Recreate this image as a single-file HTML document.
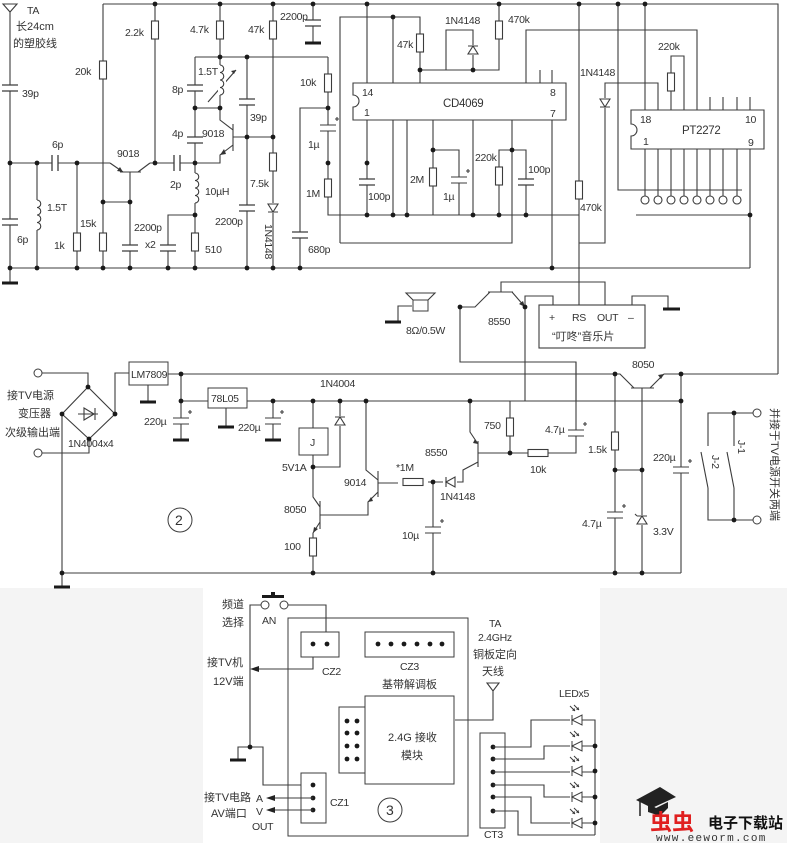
<!DOCTYPE html>
<html><head><meta charset="utf-8">
<style>
html,body{margin:0;padding:0;background:#fff;}
svg{display:block;}
.w{stroke:#3c3c3c;stroke-width:1.1;fill:none;}
text{font-family:"Liberation Sans","Noto Sans CJK SC",sans-serif;font-size:10.5px;letter-spacing:-0.3px;fill:#333;}
.c{font-family:"Liberation Sans","Noto Sans CJK SC",sans-serif;font-size:11px;letter-spacing:0;}
</style></head><body>
<svg width="787" height="843" viewBox="0 0 787 843" xmlns="http://www.w3.org/2000/svg">
<defs>
<g id="rv"><rect x="-3.5" y="-9" width="7" height="18" fill="#fff" stroke="#3c3c3c" stroke-width="1.1"/></g>
<g id="rh"><rect x="-10" y="-3.5" width="20" height="7" fill="#fff" stroke="#3c3c3c" stroke-width="1.1"/></g>
<g id="cv"><rect x="-8" y="-3" width="16" height="6" fill="#fff"/><path d="M-8 -3H8M-8 3H8" stroke="#3c3c3c" stroke-width="1.3"/></g>
<g id="ch"><rect x="-3" y="-8" width="6" height="16" fill="#fff"/><path d="M-3 -8V8M3 -8V8" stroke="#3c3c3c" stroke-width="1.3"/></g>
<g id="ev"><rect x="-8" y="-3" width="16" height="6" fill="#fff"/><path d="M-8 -3H8M-8 3H8M7 -9H11M9 -11V-7" stroke="#3c3c3c" stroke-width="1.1"/></g>
<g id="d"><circle r="2.4" fill="#1a1a1a"/></g>
<g id="g"><rect x="-8" y="-1.5" width="16" height="3" fill="#1a1a1a"/></g>
<g id="dd"><rect x="-5" y="-5" width="10" height="10" fill="#fff"/><path d="M-5 -4H5L0 4ZM-5 4H5" stroke="#3c3c3c" stroke-width="1.1" fill="#fff"/></g>
<g id="du"><rect x="-5" y="-5" width="10" height="10" fill="#fff"/><path d="M-5 4H5L0 -4ZM-5 -4H5" stroke="#3c3c3c" stroke-width="1.1" fill="#fff"/></g>
<g id="dl"><rect x="-5" y="-5" width="10" height="10" fill="#fff"/><path d="M5 -5V5L-4 0ZM-4 -5V5" stroke="#3c3c3c" stroke-width="1.1" fill="#fff"/></g>
<g id="lv"><rect x="-2" y="-15" width="8" height="30" fill="#fff"/><path d="M0 -15a3.75 3.75 0 0 1 0 7.5a3.75 3.75 0 0 1 0 7.5a3.75 3.75 0 0 1 0 7.5a3.75 3.75 0 0 1 0 7.5" stroke="#3c3c3c" stroke-width="1.1" fill="none"/></g>
<g id="led"><rect x="-6" y="-6" width="12" height="12" fill="#fff"/><path d="M6 -5V5L-4 0ZM-4 -5V5" stroke="#3c3c3c" stroke-width="1" fill="#fff"/><path d="M-6 -14L-1 -9M-2 -15L3 -10" stroke="#3c3c3c" stroke-width="1"/><path d="M-1 -9l-3 -0.5l2.5 -2.5zM3 -10l-3 -0.5l2.5 -2.5z" fill="#333"/></g>
</defs>

<rect x="0" y="588" width="787" height="255" fill="#f4f4f4"/>
<rect x="203" y="588" width="397" height="255" fill="#fff"/>

<!-- ===== TOP SECTION WIRES ===== -->
<path class="w" d="M103 4H778V374"/>
<path class="w" d="M10 12V283M10 268H750M10 163H110"/>
<path class="w" d="M37 163V268M77 163V268M103 4V268M103 202H130"/>
<path class="w" d="M110 163L123 172M120 172H141M138 172L150 163M130 172V268"/>
<path class="w" d="M150 163H195M155 4V163"/>
<path class="w" d="M195 57V268M195 57H328M220 4V108M195 108H220M247 57V268"/>
<path class="w" d="M220 108V120L233 130M233 124V151M233 145L220 155V163H195M233 137H273"/>
<path class="w" d="M208 102L236 70"/>
<path class="w" d="M195 215H168V268M273 4V268M313 4V43"/>
<path class="w" d="M328 57V215H579M328 108H300V268"/>
<path class="w" d="M340 243V17H420V83M393 17V83M420 70H499V4M446 70V30H473V70"/>
<path class="w" d="M367 4V83M367 120V215M393 120V215M407 120V215M433 120V215M433 150H459V215M473 120V215M512 120V243H340M512 150H499V215M512 150H526V215M552 120V268"/>
<path class="w" d="M540 70V83M552 70V83M526 83V30H697V110"/>
<path class="w" d="M579 4V243H605V83H658V110M579 243V305"/>
<path class="w" d="M618 4V190H742M645 4V110M671 110V56H684V110"/>
<path class="w" d="M710 97V110M723 97V110M737 97V110M750 97V110"/>
<path class="w" d="M645 149V196M658 149V196M671 149V196M684 149V196M697 149V196M710 149V196M723 149V196M737 149V196"/>
<path class="w" d="M636 215H750M750 149V268"/>
<path class="w" d="M353 83H566V120H353V107A6 6 0 0 0 353 95Z" fill="#fff"/>
<path class="w" d="M631 110H764V149H631V136A6 6 0 0 0 631 124Z" fill="#fff"/>
<g fill="none" stroke="#3c3c3c" stroke-width="1.1">
<circle cx="645" cy="200" r="4" fill="#fff"/><circle cx="658" cy="200" r="4" fill="#fff"/><circle cx="671" cy="200" r="4" fill="#fff"/><circle cx="684" cy="200" r="4" fill="#fff"/><circle cx="697" cy="200" r="4" fill="#fff"/><circle cx="710" cy="200" r="4" fill="#fff"/><circle cx="723" cy="200" r="4" fill="#fff"/><circle cx="737" cy="200" r="4" fill="#fff"/>
</g>
<path class="w" d="M3 4H17L10 12Z"/>
<use href="#g" x="10" y="283"/>
<use href="#cv" x="10" y="88"/><use href="#cv" x="10" y="222"/>
<use href="#ch" x="55" y="163"/><use href="#lv" x="37" y="215"/>
<use href="#rv" x="77" y="242"/><use href="#rv" x="103" y="70"/><use href="#rv" x="103" y="242"/>
<use href="#cv" x="130" y="248"/><use href="#rv" x="155" y="30"/><use href="#ch" x="177" y="163"/>
<use href="#cv" x="195" y="88"/><use href="#cv" x="195" y="140"/><use href="#lv" x="195" y="188"/><use href="#rv" x="195" y="242"/>
<use href="#cv" x="168" y="248"/><use href="#rv" x="220" y="30"/><use href="#lv" x="220" y="80"/>
<use href="#cv" x="247" y="102"/><use href="#cv" x="247" y="208"/>
<use href="#rv" x="273" y="30"/><use href="#rv" x="273" y="162"/><use href="#dd" x="273" y="208"/>
<use href="#cv" x="313" y="23"/><use href="#g" x="313" y="43"/>
<use href="#rv" x="328" y="83"/><use href="#ev" x="328" y="128"/><use href="#rv" x="328" y="188"/><use href="#cv" x="300" y="235"/>
<use href="#cv" x="367" y="182"/><use href="#rv" x="420" y="43"/><use href="#du" x="473" y="50"/><use href="#rv" x="499" y="30"/>
<use href="#rv" x="433" y="177"/><use href="#ev" x="459" y="180"/><use href="#rv" x="499" y="176"/><use href="#cv" x="526" y="182"/>
<use href="#rv" x="579" y="190"/><use href="#dd" x="605" y="103"/><use href="#rv" x="671" y="82"/>
<path d="M123 172l-6 -1l3 -4z M220 155l6 -1l-2 -5z" fill="#333"/>
<path d="M236 70l-5 1l3 3z" fill="#333"/>
<g>
<use href="#d" x="155" y="4"/><use href="#d" x="220" y="4"/><use href="#d" x="273" y="4"/><use href="#d" x="313" y="4"/><use href="#d" x="367" y="4"/><use href="#d" x="499" y="4"/><use href="#d" x="579" y="4"/><use href="#d" x="618" y="4"/><use href="#d" x="645" y="4"/>
<use href="#d" x="10" y="163"/><use href="#d" x="37" y="163"/><use href="#d" x="77" y="163"/><use href="#d" x="155" y="163"/><use href="#d" x="195" y="163"/>
<use href="#d" x="103" y="202"/><use href="#d" x="130" y="202"/><use href="#d" x="195" y="108"/><use href="#d" x="220" y="108"/><use href="#d" x="220" y="57"/><use href="#d" x="247" y="57"/><use href="#d" x="247" y="137"/><use href="#d" x="273" y="137"/><use href="#d" x="195" y="215"/>
<use href="#d" x="328" y="108"/><use href="#d" x="328" y="163"/><use href="#d" x="367" y="163"/>
<use href="#d" x="10" y="268"/><use href="#d" x="37" y="268"/><use href="#d" x="77" y="268"/><use href="#d" x="103" y="268"/><use href="#d" x="130" y="268"/><use href="#d" x="168" y="268"/><use href="#d" x="195" y="268"/><use href="#d" x="247" y="268"/><use href="#d" x="273" y="268"/><use href="#d" x="300" y="268"/><use href="#d" x="552" y="268"/>
<use href="#d" x="393" y="17"/><use href="#d" x="420" y="70"/><use href="#d" x="473" y="70"/>
<use href="#d" x="367" y="215"/><use href="#d" x="393" y="215"/><use href="#d" x="407" y="215"/><use href="#d" x="473" y="215"/><use href="#d" x="499" y="215"/><use href="#d" x="526" y="215"/><use href="#d" x="433" y="150"/><use href="#d" x="512" y="150"/><use href="#d" x="750" y="215"/>
</g>

<path class="w" d="M460 307H475L490 292M488 292H513M512 292L525 307M501 292V282H605V305M460 307V362H576V401"/>
<path class="w" d="M525 307V401M525 307V296H553V305M412 306H398V322"/>
<path d="M525 307l-2 -6l-4 3z" fill="#333"/>
<rect x="413" y="300" width="15" height="11" fill="#fff" stroke="#3c3c3c"/>
<path class="w" d="M413 300L406 293H435L428 300"/>
<use href="#g" x="393" y="322"/>
<use href="#d" x="460" y="307"/><use href="#d" x="525" y="307"/>
<rect x="539" y="305" width="106" height="43" fill="#fff" stroke="#3c3c3c" stroke-width="1.1"/>
<path class="w" d="M632 305V296H668V309"/><rect x="663" y="307.5" width="17" height="3" fill="#1a1a1a"/>

<!-- ===== MIDDLE SECTION ===== -->
<path class="w" d="M42 373H88V387L115 414L89 439L62 414L88 387M42 453H89V439"/>
<path class="w" d="M78 414H98M84 408V420L94 414ZM95 408V420"/>
<path class="w" d="M62 414V587M115 414V373H129M148 385V402"/>
<path class="w" d="M168 374H620L634 388M631 388H654M650 388L664 374H778M642 388V573"/>
<path d="M664 374l-6 1l3 4z" fill="#333"/>
<path class="w" d="M181 374V440M181 401H208M226 408V427M247 401H681M273 401V440"/>
<path class="w" d="M313 401V428M313 455V497L320 507M320 501V529M320 522L313 533V573M320 515H368V502L378 492M378 471V497M366 401V470L378 480M378 483H398M428 482H443M457 482H463V470L478 462M478 441V467M470 401V432L478 444M478 453H528M548 453H576V362M340 401V467H313"/>
<path d="M313 533l1 -6l4 2zM368 502l5 -1l-2 -4zM478 444l-5 -1l2 -4z" fill="#333"/>
<path class="w" d="M510 401V453M433 482V573M615 374V573M615 470H642M681 374V573M62 573H681"/>
<rect x="129" y="362" width="39" height="23" fill="#fff" stroke="#3c3c3c"/>
<rect x="208" y="388" width="39" height="20" fill="#fff" stroke="#3c3c3c"/>
<rect x="299" y="428" width="29" height="27" fill="#fff" stroke="#3c3c3c"/>
<use href="#g" x="62" y="587"/><use href="#g" x="148" y="402"/><use href="#g" x="226" y="427"/><use href="#g" x="181" y="440"/><use href="#g" x="273" y="440"/>
<use href="#ev" x="181" y="421"/><use href="#ev" x="273" y="421"/><use href="#du" x="340" y="421"/>
<use href="#rv" x="313" y="547"/><use href="#rh" x="413" y="482"/><use href="#dl" x="450" y="482"/>
<use href="#rv" x="510" y="427"/><use href="#rh" x="538" y="453"/><use href="#ev" x="576" y="433"/>
<use href="#ev" x="433" y="530"/><use href="#rv" x="615" y="441"/><use href="#ev" x="615" y="515"/>
<use href="#du" x="642" y="520"/><path class="w" d="M637 516l-2 -2"/>
<use href="#ev" x="681" y="470"/>
<g>
<use href="#d" x="181" y="374"/><use href="#d" x="181" y="401"/><use href="#d" x="273" y="401"/><use href="#d" x="313" y="401"/><use href="#d" x="340" y="401"/><use href="#d" x="366" y="401"/><use href="#d" x="470" y="401"/><use href="#d" x="615" y="374"/><use href="#d" x="681" y="374"/><use href="#d" x="681" y="401"/>
<use href="#d" x="313" y="467"/><use href="#d" x="433" y="482"/><use href="#d" x="510" y="453"/><use href="#d" x="615" y="470"/><use href="#d" x="642" y="470"/>
<use href="#d" x="62" y="573"/><use href="#d" x="313" y="573"/><use href="#d" x="433" y="573"/><use href="#d" x="615" y="573"/><use href="#d" x="642" y="573"/>
<use href="#d" x="62" y="414"/><use href="#d" x="115" y="414"/><use href="#d" x="88" y="387"/><use href="#d" x="89" y="439"/>
</g>
<circle cx="38" cy="373" r="4" fill="#fff" stroke="#3c3c3c"/><circle cx="38" cy="453" r="4" fill="#fff" stroke="#3c3c3c"/>
<circle cx="180" cy="520" r="12" fill="none" stroke="#3c3c3c"/>
<path class="w" d="M753 413H708V446M708 488V520H753M734 413V446M734 488V520M708 488L701 452M734 488L727 452"/>
<use href="#d" x="734" y="413"/><use href="#d" x="734" y="520"/>
<circle cx="757" cy="413" r="4" fill="#fff" stroke="#3c3c3c"/><circle cx="757" cy="520" r="4" fill="#fff" stroke="#3c3c3c"/>

<!-- ===== BOTTOM SECTION ===== -->
<rect x="288" y="618" width="180" height="218" fill="none" stroke="#3c3c3c"/>
<path class="w" d="M261 605H250V747M288 605H326V644M313 644V669H256M250 747H238V760M250 747H263V785H313"/>
<path d="M250 669l9 -3v6z" fill="#222"/>
<circle cx="265" cy="605" r="4" fill="#fff" stroke="#3c3c3c"/><circle cx="284" cy="605" r="4" fill="#fff" stroke="#3c3c3c"/>
<rect x="262" y="595" width="22" height="3" fill="#1a1a1a"/><rect x="271" y="592" width="4" height="4" fill="#1a1a1a"/>
<use href="#g" x="238" y="760"/><use href="#d" x="250" y="747"/>
<rect x="301" y="632" width="38" height="25" fill="#fff" stroke="#3c3c3c"/>
<use href="#d" x="313" y="644"/><use href="#d" x="327" y="644"/>
<rect x="365" y="632" width="89" height="25" fill="#fff" stroke="#3c3c3c"/>
<use href="#d" x="378" y="644"/><use href="#d" x="391" y="644"/><use href="#d" x="404" y="644"/><use href="#d" x="417" y="644"/><use href="#d" x="430" y="644"/><use href="#d" x="442" y="644"/>
<rect x="365" y="696" width="89" height="88" fill="#fff" stroke="#3c3c3c"/>
<rect x="339" y="707" width="26" height="66" fill="#fff" stroke="#3c3c3c"/>
<use href="#d" x="347" y="721"/><use href="#d" x="357" y="721"/><use href="#d" x="347" y="733"/><use href="#d" x="357" y="733"/><use href="#d" x="347" y="746"/><use href="#d" x="357" y="746"/><use href="#d" x="347" y="759"/><use href="#d" x="357" y="759"/>
<rect x="301" y="773" width="25" height="50" fill="#fff" stroke="#3c3c3c"/>
<use href="#d" x="313" y="785"/><use href="#d" x="313" y="798"/><use href="#d" x="313" y="810"/>
<path class="w" d="M313 798H270M313 810H270"/>
<path d="M266 798l9 -3v6zM266 810l9 -3v6z" fill="#222"/>
<circle cx="390" cy="810" r="12" fill="none" stroke="#3c3c3c"/>
<path class="w" d="M455 720H493V690M487 683H499L493 691Z"/>
<rect x="480" y="733" width="25" height="95" fill="#fff" stroke="#3c3c3c"/>
<g><use href="#d" x="493" y="747"/><use href="#d" x="493" y="759"/><use href="#d" x="493" y="772"/><use href="#d" x="493" y="785"/><use href="#d" x="493" y="797"/><use href="#d" x="493" y="811"/></g>
<path class="w" d="M493 747H531V720H595V835M493 759H544V746H595M493 772H595M493 785H544V797H595M493 797H531V823H595M493 811H518V835H595"/>
<use href="#led" x="576" y="720"/><use href="#led" x="576" y="746"/><use href="#led" x="576" y="771"/><use href="#led" x="576" y="797"/><use href="#led" x="576" y="823"/>
<use href="#d" x="595" y="746"/><use href="#d" x="595" y="771"/><use href="#d" x="595" y="797"/><use href="#d" x="595" y="823"/>

<path d="M636 800L660 787L676 797L652 808Z" fill="#222"/><path d="M648 803V812L660 816L668 808V802L656 808Z" fill="#222"/><path d="M640 801V816" stroke="#222" stroke-width="1.5"/>
<text x="650" y="830" style="font-size:22px;font-weight:bold;fill:#e02020;font-family:'Noto Sans CJK SC',sans-serif;letter-spacing:0">虫虫</text>
<text x="708" y="828" style="font-size:15px;font-weight:bold;fill:#111;font-family:'Noto Sans CJK SC',sans-serif;letter-spacing:0">电子下载站</text>
<text x="656" y="841" style="font-size:11px;fill:#333;letter-spacing:1.3px;font-family:'Liberation Mono',monospace">www.eeworm.com</text>

<!-- ===== TEXT LABELS ===== -->
<g>
<text x="27" y="14">TA</text>
<text class="c" x="16" y="30">长24cm</text>
<text class="c" x="13" y="47">的塑胶线</text>
<text x="22" y="97">39p</text><text x="17" y="243">6p</text><text x="52" y="148">6p</text>
<text x="47" y="211">1.5T</text><text x="54" y="249">1k</text><text x="75" y="75">20k</text><text x="80" y="227">15k</text>
<text x="117" y="157">9018</text><text x="125" y="36">2.2k</text><text x="170" y="188">2p</text>
<text x="134" y="231">2200p</text><text x="145" y="248">x2</text><text x="205" y="195">10µH</text><text x="205" y="253">510</text>
<text x="172" y="137">4p</text><text x="172" y="93">8p</text><text x="198" y="75">1.5T</text><text x="202" y="137">9018</text>
<text x="190" y="33">4.7k</text><text x="250" y="121">39p</text><text x="215" y="225">2200p</text><text x="248" y="33">47k</text>
<text x="250" y="187">7.5k</text>
<text x="265" y="224" transform="rotate(90 265 224)">1N4148</text>
<text x="280" y="20">2200p</text><text x="300" y="86">10k</text><text x="308" y="148">1µ</text><text x="306" y="197">1M</text><text x="308" y="253">680p</text>
<text x="368" y="200">100p</text><text x="362" y="96">14</text><text x="364" y="116">1</text>
<text x="397" y="48">47k</text><text x="445" y="24">1N4148</text><text x="508" y="23">470k</text>
<text x="443" y="107" style="font-size:11.5px">CD4069</text><text x="550" y="96">8</text><text x="550" y="117">7</text>
<text x="410" y="183">2M</text><text x="443" y="200">1µ</text><text x="475" y="161">220k</text><text x="528" y="173">100p</text>
<text x="580" y="211">470k</text><text x="580" y="76">1N4148</text><text x="658" y="50">220k</text>
<text x="640" y="123">18</text><text x="643" y="145">1</text><text x="682" y="134" style="font-size:11.5px">PT2272</text><text x="745" y="123">10</text><text x="748" y="146">9</text>
<text x="406" y="334">8Ω/0.5W</text><text x="488" y="325">8550</text>
<text x="549" y="321">+</text><text x="572" y="321">RS</text><text x="597" y="321">OUT</text><text x="628" y="321">–</text>
<text class="c" x="552" y="340">“叮咚”音乐片</text>

<text class="c" x="7" y="399">接TV电源</text><text class="c" x="18" y="417">变压器</text><text class="c" x="5" y="436">次级输出端</text>
<text x="68" y="447">1N4004x4</text><text x="131" y="378">LM7809</text><text x="211" y="402">78L05</text>
<text x="144" y="425">220µ</text><text x="238" y="431">220µ</text><text x="320" y="387">1N4004</text>
<text x="310" y="446">J</text><text x="282" y="471">5V1A</text><text x="284" y="513">8050</text><text x="284" y="550">100</text>
<text x="344" y="486">9014</text><text x="396" y="471">*1M</text><text x="440" y="500">1N4148</text><text x="425" y="456">8550</text>
<text x="402" y="539">10µ</text><text x="484" y="429">750</text><text x="530" y="473">10k</text><text x="545" y="433">4.7µ</text>
<text x="588" y="453">1.5k</text><text x="582" y="527">4.7µ</text><text x="653" y="535">3.3V</text><text x="653" y="461">220µ</text>
<text x="632" y="368">8050</text>
<text x="175" y="525" style="font-size:14px">2</text>
<text x="712" y="455" transform="rotate(90 712 455)">J-2</text>
<text x="738" y="440" transform="rotate(90 738 440)">J-1</text>
<text class="c" x="771" y="408" transform="rotate(90 771 408)">并接于TV电源开关两端</text>

<text class="c" x="222" y="608">频道</text><text class="c" x="222" y="626">选择</text><text x="262" y="624">AN</text>
<text class="c" x="207" y="666">接TV机</text><text class="c" x="213" y="685">12V端</text>
<text x="322" y="675">CZ2</text><text x="400" y="670">CZ3</text><text class="c" x="382" y="688">基带解调板</text>
<text class="c" x="388" y="741">2.4G 接收</text><text class="c" x="401" y="759">模块</text>
<text x="330" y="806">CZ1</text>
<text class="c" x="204" y="801">接TV电路</text><text class="c" x="211" y="817">AV端口</text>
<text x="256" y="802">A</text><text x="256" y="815">V</text><text x="252" y="830">OUT</text>
<text x="386" y="815" style="font-size:14px">3</text>
<text x="489" y="627">TA</text><text x="478" y="641">2.4GHz</text>
<text class="c" x="473" y="658">铜板定向</text><text class="c" x="482" y="675">天线</text>
<text x="559" y="697">LEDx5</text><text x="484" y="838">CT3</text>
</g>
</svg>
</body></html>
